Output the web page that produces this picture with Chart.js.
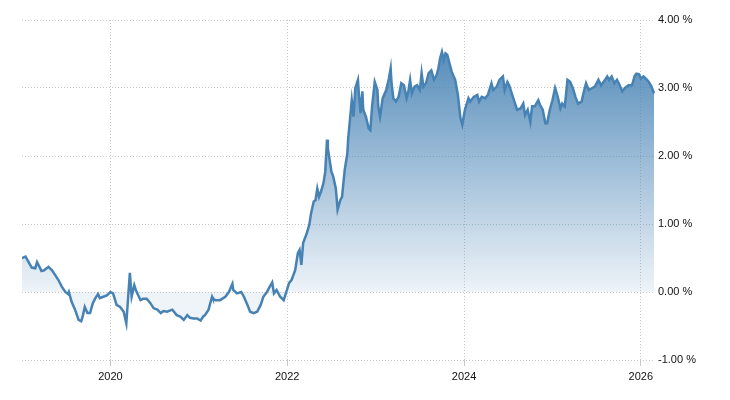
<!DOCTYPE html>
<html>
<head>
<meta charset="utf-8">
<script src="https://cdn.jsdelivr.net/npm/chart.js@4.4.1/dist/chart.umd.min.js"></script>
<style>
  html, body { margin: 0; padding: 0; background: #fff; }
  #wrap { width: 730px; height: 400px; }
</style>
</head>
<body>
<div id="wrap"><canvas id="myChart" width="730" height="400"></canvas></div>
<script>
// dates as decimal years, yields in percent
const dates = [
  2019.00, 2019.04, 2019.07, 2019.11, 2019.15, 2019.17, 2019.19, 2019.22, 2019.25, 2019.30,
  2019.34, 2019.37, 2019.41, 2019.45, 2019.49, 2019.52, 2019.53, 2019.56, 2019.60, 2019.64,
  2019.67, 2019.69, 2019.71, 2019.74, 2019.77, 2019.80, 2019.83, 2019.86, 2019.88, 2019.92,
  2019.96, 2020.00, 2020.03, 2020.07, 2020.11, 2020.15, 2020.18, 2020.22, 2020.24, 2020.27,
  2020.29, 2020.34, 2020.37, 2020.41, 2020.45, 2020.49, 2020.53, 2020.57, 2020.60, 2020.64,
  2020.70, 2020.75, 2020.79, 2020.83, 2020.87, 2020.90, 2020.94, 2020.98, 2021.02, 2021.05,
  2021.07, 2021.11, 2021.15, 2021.16, 2021.19, 2021.24, 2021.30, 2021.34, 2021.38, 2021.39,
  2021.43, 2021.48, 2021.51, 2021.55, 2021.58, 2021.62, 2021.66, 2021.70, 2021.73, 2021.77,
  2021.79, 2021.83, 2021.85, 2021.88, 2021.92, 2021.96, 2021.99, 2022.02, 2022.05, 2022.09,
  2022.12, 2022.14, 2022.16, 2022.18, 2022.22, 2022.25, 2022.27, 2022.30, 2022.32, 2022.34,
  2022.36, 2022.38, 2022.41, 2022.43, 2022.45, 2022.46, 2022.50, 2022.52, 2022.55, 2022.57,
  2022.60, 2022.62, 2022.65, 2022.68, 2022.69, 2022.73, 2022.75, 2022.77, 2022.80, 2022.81,
  2022.83, 2022.85, 2022.86, 2022.89, 2022.92, 2022.94, 2022.96, 2022.99, 2023.02, 2023.03,
  2023.05, 2023.08, 2023.12, 2023.15, 2023.17, 2023.18, 2023.20, 2023.23, 2023.26, 2023.29,
  2023.32, 2023.35, 2023.37, 2023.39, 2023.41, 2023.44, 2023.47, 2023.50, 2023.52, 2023.54,
  2023.57, 2023.60, 2023.63, 2023.66, 2023.69, 2023.71, 2023.73, 2023.75, 2023.77, 2023.79,
  2023.81, 2023.84, 2023.86, 2023.90, 2023.93, 2023.96, 2023.98, 2024.01, 2024.05, 2024.07,
  2024.11, 2024.15, 2024.17, 2024.20, 2024.24, 2024.27, 2024.31, 2024.33, 2024.37, 2024.40,
  2024.44, 2024.46, 2024.49, 2024.51, 2024.54, 2024.57, 2024.60, 2024.64, 2024.67, 2024.69,
  2024.72, 2024.75, 2024.77, 2024.80, 2024.84, 2024.86, 2024.89, 2024.92, 2024.94, 2024.97,
  2025.00, 2025.03, 2025.06, 2025.09, 2025.11, 2025.14, 2025.17, 2025.20, 2025.23, 2025.26,
  2025.29, 2025.33, 2025.35, 2025.38, 2025.41, 2025.45, 2025.48, 2025.52, 2025.55, 2025.58,
  2025.62, 2025.64, 2025.67, 2025.70, 2025.73, 2025.75, 2025.79, 2025.82, 2025.86, 2025.90,
  2025.93, 2025.95, 2025.98, 2026.00, 2026.03, 2026.07, 2026.09, 2026.12, 2026.15
];

const yields = [
  0.50, 0.52, 0.45, 0.36, 0.35, 0.44, 0.39, 0.31, 0.32, 0.37,
  0.32, 0.26, 0.18, 0.08, 0.00, -0.03, 0.00, -0.14, -0.26, -0.41,
  -0.43, -0.34, -0.22, -0.31, -0.31, -0.17, -0.09, -0.03, -0.09, -0.07,
  -0.05, 0.00, -0.02, -0.19, -0.22, -0.29, -0.46, 0.28, -0.07, 0.10,
  0.02, -0.12, -0.10, -0.10, -0.16, -0.24, -0.26, -0.31, -0.28, -0.29,
  -0.26, -0.34, -0.36, -0.41, -0.34, -0.38, -0.39, -0.39, -0.42, -0.36,
  -0.34, -0.26, -0.07, -0.10, -0.12, -0.12, -0.07, 0.00, 0.12, 0.03,
  -0.02, 0.00, -0.07, -0.19, -0.29, -0.31, -0.29, -0.19, -0.07, 0.00,
  0.05, 0.14, -0.02, 0.03, -0.07, -0.12, 0.00, 0.13, 0.18, 0.32,
  0.57, 0.62, 0.40, 0.72, 0.86, 0.99, 1.16, 1.33, 1.35, 1.52,
  1.40, 1.47, 1.60, 1.77, 2.24, 2.11, 1.77, 1.70, 1.52, 1.21,
  1.35, 1.40, 1.79, 2.04, 2.26, 2.82, 2.58, 3.00, 3.12, 2.92,
  2.63, 2.95, 2.68, 2.58, 2.41, 2.38, 2.73, 3.09, 2.97, 2.73,
  2.58, 2.85, 2.97, 3.14, 3.29, 3.07, 2.85, 2.80, 2.87, 3.07,
  3.04, 2.85, 2.95, 3.12, 2.92, 3.02, 3.04, 2.97, 3.22, 3.02,
  3.07, 3.22, 3.26, 3.12, 3.19, 3.29, 3.44, 3.53, 3.41, 3.51,
  3.49, 3.34, 3.24, 3.12, 2.90, 2.55, 2.46, 2.68, 2.85, 2.80,
  2.87, 2.90, 2.80, 2.87, 2.85, 2.90, 3.07, 2.97, 3.02, 3.12,
  3.17, 2.97, 3.09, 3.04, 2.92, 2.80, 2.68, 2.70, 2.77, 2.60,
  2.68, 2.50, 2.73, 2.73, 2.82, 2.75, 2.68, 2.48, 2.48, 2.68,
  2.82, 3.00, 2.87, 2.70, 2.77, 2.73, 3.12, 3.09, 3.00, 2.87,
  2.77, 2.80, 2.92, 3.07, 2.97, 3.00, 3.02, 3.12, 3.04, 3.09,
  3.17, 3.12, 3.17, 3.07, 3.12, 3.07, 2.95, 3.00, 3.04, 3.04,
  3.18, 3.21, 3.20, 3.14, 3.17, 3.12, 3.09, 3.02, 2.92
];

const yearTicks = [2020, 2022, 2024, 2026];
const yTicks = [-1, 0, 1, 2, 3, 4];

const gridColor = 'rgb(200, 200, 200)';
const lineColor = 'rgb(70, 130, 180)';

// points for the linear x axis
let points = dates.map((d, i) => ({ x: d, y: yields[i] }));

const myChart = document.getElementById('myChart');

let yieldChart = new Chart(myChart, {
    type: 'line',
    data: {
        datasets: [{
            data: points,
            borderColor: lineColor,
            borderWidth: 2.5,
            pointRadius: 0,
            tension: 0,
            fill: 'origin',
            backgroundColor: function (context) {
                const chart = context.chart;
                const area = chart.chartArea;
                if (!area) return 'rgba(70,130,180,0.3)';
                const yScale = chart.scales.y;
                const top = yScale.getPixelForValue(3.6);
                const zero = yScale.getPixelForValue(0);
                let grad = chart.ctx.createLinearGradient(0, top, 0, zero);
                grad.addColorStop(0, 'rgba(70, 130, 180, 0.92)');
                grad.addColorStop(1, 'rgba(70, 130, 180, 0.09)');
                return grad;
            }
        }]
    },
    options: {
        responsive: false,
        animation: false,
        layout: {
            padding: { left: 22, top: 20, right: 0, bottom: 0 }
        },
        plugins: {
            legend: { display: false },
            tooltip: { enabled: false }
        },
        scales: {
            x: {
                type: 'linear',
                min: 2019.0,
                max: 2026.16,
                afterBuildTicks: scale => {
                    scale.ticks = yearTicks.map(v => ({ value: v }));
                },
                afterFit: scale => { scale.height = 40; },
                grid: {
                    color: gridColor,
                    lineWidth: 1,
                    drawTicks: true,
                    tickLength: 6
                },
                border: { display: false, dash: [1, 2] },
                ticks: {
                    padding: 4,
                    maxRotation: 0,
                    color: '#111',
                    font: { family: 'Liberation Sans, Arial, sans-serif', size: 11 },
                    callback: v => String(v)
                }
            },
            y: {
                position: 'right',
                min: -1,
                max: 4,
                afterBuildTicks: scale => {
                    scale.ticks = yTicks.map(v => ({ value: v }));
                },
                afterFit: scale => { scale.width = 75; },
                grid: {
                    color: gridColor,
                    lineWidth: 1,
                    drawTicks: false
                },
                border: { display: false, dash: [1, 2] },
                ticks: {
                    padding: 3,
                    color: '#111',
                    font: { family: 'Liberation Sans, Arial, sans-serif', size: 11 },
                    callback: v => v.toFixed(2) + ' %'
                }
            }
        }
    }
});
</script>
</body>
</html>
